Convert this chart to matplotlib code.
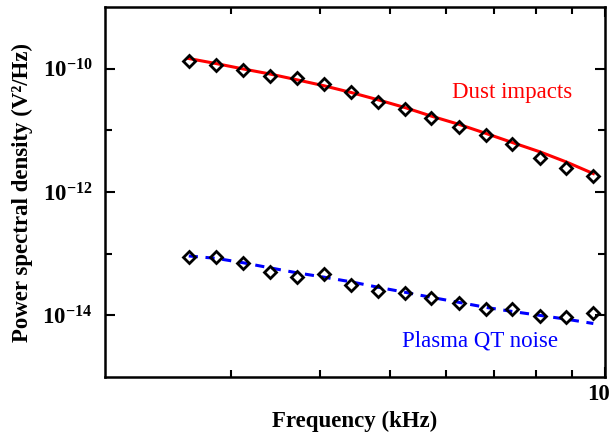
import matplotlib
matplotlib.use("Agg")
import matplotlib.pyplot as plt
import matplotlib.transforms as mtrans
from matplotlib.ticker import NullFormatter

plt.rcParams["font.family"] = ["Liberation Serif", "DejaVu Serif"]
plt.rcParams["mathtext.fontset"] = "custom"
plt.rcParams["mathtext.rm"] = "Liberation Serif"
plt.rcParams["mathtext.bf"] = "Liberation Serif:bold"

# Frequencies (kHz) of the measured points
freq = [2.62, 2.86, 3.12, 3.40, 3.71, 4.05, 4.42, 4.82,
        5.26, 5.71, 6.25, 6.82, 7.42, 8.12, 8.83, 9.63]

# Dust impacts: measured spectrum and fitted curve (V^2/Hz)
dust_psd = [1.31e-10, 1.16e-10, 9.6e-11, 7.7e-11, 7.05e-11, 5.6e-11, 4.16e-11, 2.93e-11,
            2.22e-11, 1.57e-11, 1.14e-11, 8.36e-12, 5.9e-12, 3.6e-12, 2.48e-12, 1.79e-12]
dust_fit = [1.46e-10, 1.21e-10, 9.9e-11, 8.2e-11, 6.6e-11, 5.27e-11, 4.1e-11, 3.12e-11,
            2.33e-11, 1.71e-11, 1.25e-11, 8.9e-12, 6.35e-12, 4.46e-12, 3.07e-12, 1.99e-12]

# Plasma quasi-thermal noise: measured spectrum and fitted curve (V^2/Hz)
qtn_psd = [8.85e-14, 8.85e-14, 6.98e-14, 5.04e-14, 4.17e-14, 4.61e-14, 3.17e-14, 2.46e-14,
           2.31e-14, 1.92e-14, 1.59e-14, 1.27e-14, 1.29e-14, 9.9e-15, 9.3e-15, 1.09e-14]
qtn_fit = [9.2e-14, 8.43e-14, 7.15e-14, 5.92e-14, 4.91e-14, 4.17e-14, 3.5e-14, 2.86e-14,
           2.37e-14, 1.97e-14, 1.63e-14, 1.35e-14, 1.16e-14, 1.0e-14, 8.7e-15, 7.4e-15]

y_major = [1e-14, 1e-12, 1e-10]
y_major_labels = [r"$\mathbf{10^{-14}}$", r"$\mathbf{10^{-12}}$", r"$\mathbf{10^{-10}}$"]
y_minor = [1e-13, 1e-11]
x_major = [10]
x_minor = [3, 4, 5, 6, 7, 8, 9]

fig = plt.figure(figsize=(6.13, 4.34), dpi=100)
ax = fig.add_axes([0.171, 0.131, 0.816, 0.853])

ax.plot(freq, dust_fit, color="red", lw=2.2, zorder=2)
ax.plot(freq, qtn_fit, color="blue", lw=2.2, ls=(0, (3, 2.5)), zorder=2)
ax.plot(freq, dust_psd, ls="none", marker="D", ms=6.5, mfc="none", mec="black", mew=2, zorder=3)
ax.plot(freq, qtn_psd, ls="none", marker="D", ms=6.5, mfc="none", mec="black", mew=2, zorder=3)

ax.set_xscale("log")
ax.set_yscale("log")
ax.set_xlim(2, 10)
ax.set_ylim(1e-15, 1e-9)

ax.set_xticks(x_major)
ax.set_xticklabels(["10"], fontweight="bold")
ax.set_xticks(x_minor, minor=True)
ax.xaxis.set_minor_formatter(NullFormatter())
ax.set_yticks(y_major)
ax.set_yticklabels(y_major_labels)
ax.set_yticks(y_minor, minor=True)
ax.yaxis.set_minor_formatter(NullFormatter())

ax.tick_params(which="both", direction="in", top=True, right=True, labelsize=16.5, width=1.5)
ax.tick_params(axis="y", which="major", length=7, pad=9)
ax.tick_params(axis="y", which="minor", length=5)
ax.tick_params(axis="x", which="major", length=7, pad=5)
ax.tick_params(axis="x", which="minor", length=5)
for s in ax.spines.values():
    s.set_linewidth(1.8)

# nudge the "10" label left so it sits inside the figure like the original
shift = mtrans.ScaledTranslation(-0.07, 0, fig.dpi_scale_trans)
for lab in ax.get_xticklabels():
    lab.set_transform(lab.get_transform() + shift)

ax.set_xlabel("Frequency (kHz)", fontsize=16.5, fontweight="bold")
ax.set_ylabel("Power spectral density (V²/Hz)", fontsize=16.5, fontweight="bold")
ax.xaxis.set_label_coords(0.5, -0.09)
ax.yaxis.set_label_coords(-0.144, 0.5)

ax.text(0.694, 0.768, "Dust impacts", color="red", fontsize=16.5,
        transform=ax.transAxes, va="center", ha="left")
ax.text(0.594, 0.097, "Plasma QT noise", color="blue", fontsize=16.5,
        transform=ax.transAxes, va="center", ha="left")

fig.savefig("out.png", dpi=100)
